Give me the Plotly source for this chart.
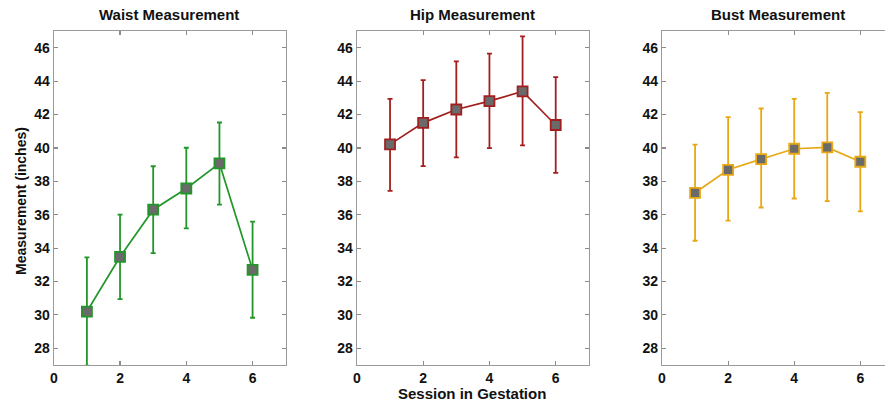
import plotly.graph_objects as go

sessions = [1, 2, 3, 4, 5, 6]

waist = [30.2, 33.48, 36.3, 37.57, 39.07, 32.7]
waist_plus = [3.24, 2.52, 2.6, 2.44, 2.45, 2.89]
waist_minus = [3.24, 2.54, 2.6, 2.39, 2.47, 2.87]

hip = [40.21, 41.5, 42.3, 42.8, 43.38, 41.37]
hip_plus = [2.73, 2.56, 2.88, 2.84, 3.3, 2.87]
hip_minus = [2.78, 2.59, 2.87, 2.81, 3.23, 2.86]

bust = [37.31, 38.69, 39.33, 39.95, 40.03, 39.17]
bust_plus = [2.89, 3.15, 3.03, 2.99, 3.27, 2.97]
bust_minus = [2.87, 3.04, 2.9, 2.98, 3.22, 2.97]

titles = ["Waist Measurement", "Hip Measurement", "Bust Measurement"]
colors = ["#23962a", "#a31f1f", "#e8a815"]
y_ticks = [28, 30, 32, 34, 36, 38, 40, 42, 44, 46]
x_ticks = [0, 2, 4, 6]

W, H = 885, 405
top_px, bot_px = 31, 365
panels_px = [(50, 283), (354.5, 587.5), (661, 885)]
px_per_unit = 33.2
x_ranges = [[0, 7], [0, 7], [0, (885 - 661) / px_per_unit]]

series = [(waist, waist_plus, waist_minus), (hip, hip_plus, hip_minus), (bust, bust_plus, bust_minus)]

fig = go.Figure()
font_family = "Liberation Sans, Arial, sans-serif"
for i, ((vals, ep, em), col) in enumerate(zip(series, colors)):
    xa = "x" if i == 0 else f"x{i+1}"
    ya = "y" if i == 0 else f"y{i+1}"
    fig.add_trace(go.Scatter(
        x=sessions, y=vals, mode="lines+markers",
        xaxis=xa, yaxis=ya, showlegend=False, hoverinfo="skip",
        line=dict(color=col, width=1.7),
        marker=dict(symbol="square", size=10, color="#6a6a6a",
                    line=dict(color=col, width=1.8)),
        error_y=dict(type="data", symmetric=False, array=ep, arrayminus=em,
                     color=col, thickness=1.8, width=2.5),
        cliponaxis=True,
    ))

y0 = 1 - bot_px / H
y1 = 1 - top_px / H
axis_common = dict(showgrid=False, zeroline=False, showline=True,
                   linecolor="#9a9a9a", linewidth=1.2,
                   ticks="inside", ticklen=4, tickcolor="#8a8a8a", tickwidth=1.2,
                   tickfont=dict(family=font_family, size=14, color="#111111", weight="bold"))
layout = dict(width=W, height=H, margin=dict(l=0, r=0, t=0, b=0),
              paper_bgcolor="white", plot_bgcolor="white",
              font=dict(family=font_family), hovermode=False)
for i in range(3):
    sx = "" if i == 0 else str(i + 1)
    a, b = panels_px[i]
    layout[f"xaxis{sx}"] = dict(axis_common, domain=[a / W, min(b / W, 1)],
                                range=x_ranges[i], tickvals=x_ticks,
                                mirror="ticks", anchor=f"y{sx}")
    layout[f"yaxis{sx}"] = dict(axis_common, domain=[y0, y1], range=[27, 47],
                                tickvals=y_ticks,
                                mirror="ticks" if i < 2 else False,
                                anchor=f"x{sx}")
fig.update_layout(**layout)

annotations = []
for i, t in enumerate(titles):
    a, b = panels_px[i]
    cx = (a + a + 7 * px_per_unit) / 2
    annotations.append(dict(text=f"<b>{t}</b>", x=cx / W, y=1 - 15 / H, xref="paper", yref="paper",
                            showarrow=False, xanchor="center", yanchor="middle",
                            font=dict(family=font_family, size=15, color="#111111")))
annotations.append(dict(text="<b>Session in Gestation</b>", x=470.5 / W, y=1 - 393 / H,
                        xref="paper", yref="paper", showarrow=False,
                        xanchor="center", yanchor="middle",
                        font=dict(family=font_family, size=15, color="#111111")))
annotations.append(dict(text="<b>Measurement (inches)</b>", x=17 / W, y=1 - 201 / H,
                        xref="paper", yref="paper", showarrow=False, textangle=-90,
                        xanchor="center", yanchor="middle",
                        font=dict(family=font_family, size=14, color="#111111")))
fig.update_layout(annotations=annotations)

fig.write_html("out.html", config={"displayModeBar": False, "staticPlot": True},
               post_script="document.body.style.margin='0';document.body.style.overflow='hidden';")
